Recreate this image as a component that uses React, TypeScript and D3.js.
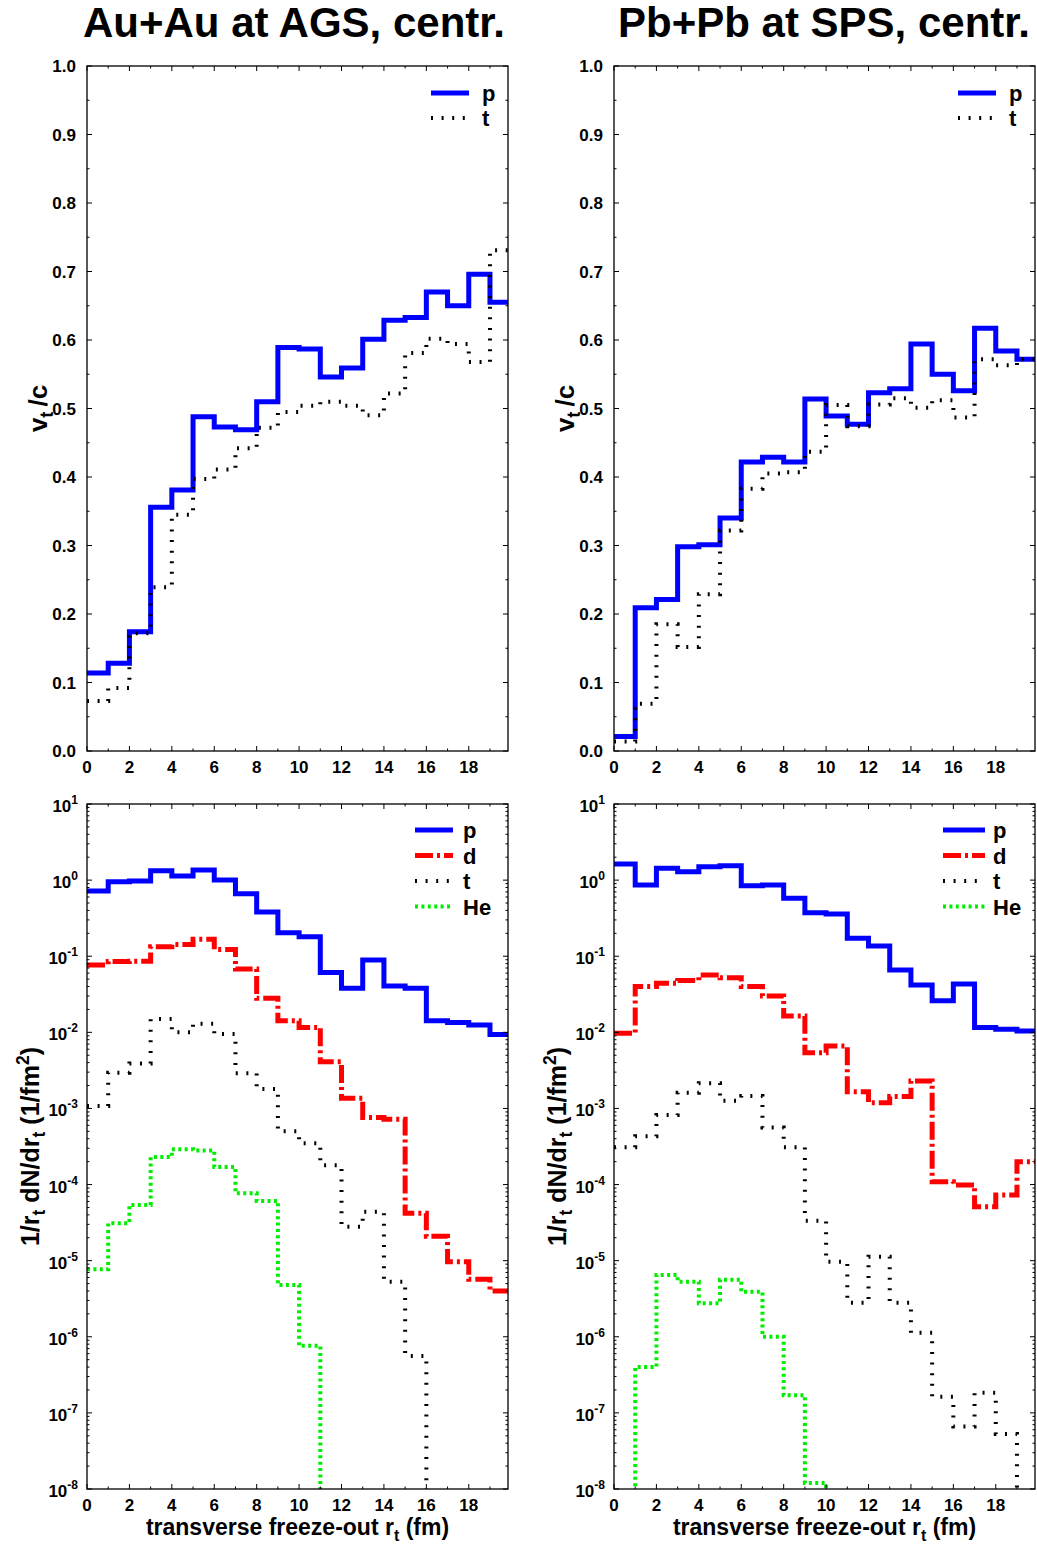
import React from "react";
import * as d3 from "d3";

// bin edges of the transverse radius histogram (fm)
const rEdges = [0, 1, 2, 3, 4, 5, 6, 7, 8, 9, 10, 11, 12, 13, 14, 15, 16, 17, 18, 19, 20];

// v_t/c per bin
const agsVtP = [0.114, 0.128, 0.174, 0.356, 0.381, 0.488, 0.473, 0.469, 0.51, 0.589, 0.587, 0.546, 0.559, 0.601, 0.629, 0.633, 0.67, 0.65, 0.696, 0.655];
const agsVtT = [0.073, 0.092, 0.172, 0.239, 0.345, 0.397, 0.411, 0.442, 0.472, 0.495, 0.504, 0.51, 0.504, 0.49, 0.522, 0.581, 0.602, 0.594, 0.568, 0.731];
const spsVtP = [0.021, 0.209, 0.221, 0.298, 0.301, 0.34, 0.422, 0.429, 0.422, 0.514, 0.489, 0.477, 0.523, 0.529, 0.594, 0.55, 0.526, 0.617, 0.584, 0.572];
const spsVtT = [0.014, 0.069, 0.185, 0.152, 0.229, 0.322, 0.383, 0.405, 0.407, 0.437, 0.505, 0.474, 0.506, 0.515, 0.501, 0.512, 0.487, 0.572, 0.563, 0.572];

// 1/r_t dN/dr_t (1/fm^2) per bin, null = empty bin
const agsDnP = [0.72, 0.95, 0.97, 1.33, 1.13, 1.36, 1.0, 0.66, 0.38, 0.204, 0.18, 0.061, 0.038, 0.089, 0.0406, 0.038, 0.0142, 0.0135, 0.0125, 0.0094];
const agsDnD = [0.0767, 0.085, 0.086, 0.133, 0.143, 0.167, 0.123, 0.068, 0.028, 0.0142, 0.0116, 0.0041, 0.00136, 0.00076, 0.00072, 4.2e-5, 2.1e-5, 9.7e-6, 5.7e-6, 4.0e-6];
const agsDnT = [0.00108, 0.00295, 0.0039, 0.015, 0.01, 0.013, 0.0095, 0.0029, 0.0018, 0.0005, 0.00035, 0.00018, 2.8e-5, 4.4e-5, 5.3e-6, 5.6e-7, null, null, null, null];
const agsDnHe = [7.7e-6, 3.1e-5, 5.4e-5, 0.00023, 0.00029, 0.00028, 0.00017, 7.7e-5, 6.1e-5, 4.8e-6, 7.6e-7, null, null, null, null, null, null, null, null, null];
const spsDnP = [1.63, 0.864, 1.43, 1.29, 1.5, 1.55, 0.845, 0.86, 0.577, 0.373, 0.36, 0.172, 0.136, 0.066, 0.042, 0.026, 0.043, 0.0116, 0.011, 0.0104];
const spsDnD = [0.0097, 0.04, 0.044, 0.048, 0.0566, 0.052, 0.04, 0.03, 0.0164, 0.0054, 0.0066, 0.00166, 0.00119, 0.00143, 0.0023, 0.000109, 9.9e-5, 5.1e-5, 7.3e-5, 0.0002];
const spsDnT = [0.00031, 0.00043, 0.00082, 0.00161, 0.00214, 0.00126, 0.00146, 0.00056, 0.00031, 3.35e-5, 9.7e-6, 2.8e-6, 1.13e-5, 2.8e-6, 1.13e-6, 1.63e-7, 6.6e-8, 1.84e-7, 5.3e-8, null];
const spsDnHe = [null, 4.0e-7, 6.5e-6, 5.3e-6, 2.75e-6, 5.6e-6, 3.9e-6, 1.0e-6, 1.7e-7, 1.2e-8, null, null, null, null, null, null, null, null, null, null];

const xTickLabels = [0, 2, 4, 6, 8, 10, 12, 14, 16, 18];
const vtTickLabels = [0, 0.1, 0.2, 0.3, 0.4, 0.5, 0.6, 0.7, 0.8, 0.9, 1.0];
const logExponents = [1, 0, -1, -2, -3, -4, -5, -6, -7, -8];

const FONT = "'Liberation Sans', Arial, Helvetica, sans-serif";

const STYLE = {
  p: { color: "#0000ff", width: 5, dash: undefined },
  d: { color: "#ff0000", width: 5, dash: "18,4,3,4" },
  t: { color: "#000000", width: 4, dash: "2,8.6" },
  He: { color: "#00ee00", width: 4, dash: "3,3.4" },
};

type Row = { r: number; v: number | null };

function Panel(props: any) {
  const { id, left, right, top, bottom, log, series, legend, yLabel, xLabel, title } = props;
  const x = d3.scaleLinear().domain([0, 19.85]).range([left, right]);
  const y: any = log
    ? d3.scaleLog().domain([1e-8, 10]).range([bottom, top])
    : d3.scaleLinear().domain([0, 1]).range([bottom, top]);

  const line = d3
    .line<Row>()
    .x((d) => x(d.r))
    .y((d) => (d.v == null ? bottom + 40 : y(d.v)))
    .curve(d3.curveStepAfter);

  const xMinor = x.ticks(20).filter((t) => !xTickLabels.includes(t));
  let yMajor: number[];
  let yMinor: number[];
  if (log) {
    yMajor = logExponents.map((e) => Math.pow(10, e));
    yMinor = y.ticks().filter((t: number) => {
      const m = t / Math.pow(10, Math.floor(Math.log10(t) + 1e-9));
      return Math.abs(m - 1) > 1e-6;
    });
  } else {
    yMajor = vtTickLabels;
    yMinor = y.ticks(20).filter((t: number) => Math.abs(t * 10 - Math.round(t * 10)) > 1e-6);
  }

  const MAJ = 5;
  const MIN = 2.5;
  const cx = (left + right) / 2;
  const cy = (top + bottom) / 2;
  const sub = yLabel.size * 0.7;

  return (
    <g>
      <defs>
        <clipPath id={id}>
          <rect x={left} y={top} width={right - left} height={bottom - top} />
        </clipPath>
      </defs>
      {title && (
        <text x={title.x} y={37} textAnchor="middle" fontFamily={FONT} fontWeight="bold" fontSize={42}>
          {title.text}
        </text>
      )}
      <g clipPath={`url(#${id})`}>
        {series.map((s: any, i: number) => {
          const st = (STYLE as any)[s.key];
          const rows: Row[] = rEdges.map((r, k) => ({ r, v: s.values[Math.min(k, s.values.length - 1)] }));
          return (
            <path
              key={i}
              d={line(rows) || ""}
              fill="none"
              stroke={st.color}
              strokeWidth={st.width}
              strokeDasharray={st.dash}
              strokeLinejoin="miter"
            />
          );
        })}
      </g>
      {/* frame */}
      <rect x={left} y={top} width={right - left} height={bottom - top} fill="none" stroke="#000" strokeWidth={1.3} />
      {/* x ticks */}
      {xTickLabels.map((t) => (
        <g key={"xm" + t}>
          <line x1={x(t)} x2={x(t)} y1={bottom} y2={bottom - MAJ} stroke="#000" strokeWidth={1} />
          <line x1={x(t)} x2={x(t)} y1={top} y2={top + MAJ} stroke="#000" strokeWidth={1} />
          <text x={x(t)} y={bottom + 22} textAnchor="middle" fontFamily={FONT} fontWeight="bold" fontSize={17}>
            {t}
          </text>
        </g>
      ))}
      {xMinor.map((t) => (
        <g key={"xn" + t}>
          <line x1={x(t)} x2={x(t)} y1={bottom} y2={bottom - MIN} stroke="#000" strokeWidth={1} />
          <line x1={x(t)} x2={x(t)} y1={top} y2={top + MIN} stroke="#000" strokeWidth={1} />
        </g>
      ))}
      {/* y ticks */}
      {yMajor.map((t, i) => (
        <g key={"ym" + i}>
          <line x1={left} x2={left + MAJ} y1={y(t)} y2={y(t)} stroke="#000" strokeWidth={1} />
          <line x1={right} x2={right - MAJ} y1={y(t)} y2={y(t)} stroke="#000" strokeWidth={1} />
          {log ? (
            <text x={left - 9} y={y(t) + 8} textAnchor="end" fontFamily={FONT} fontWeight="bold" fontSize={17}>
              <tspan>10</tspan>
              <tspan dy={-8} fontSize={12}>
                {logExponents[i]}
              </tspan>
            </text>
          ) : (
            <text x={left - 11} y={y(t) + 6} textAnchor="end" fontFamily={FONT} fontWeight="bold" fontSize={17}>
              {d3.format(".1f")(t)}
            </text>
          )}
        </g>
      ))}
      {yMinor.map((t, i) => (
        <g key={"yn" + i}>
          <line x1={left} x2={left + MIN} y1={y(t)} y2={y(t)} stroke="#000" strokeWidth={1} />
          <line x1={right} x2={right - MIN} y1={y(t)} y2={y(t)} stroke="#000" strokeWidth={1} />
        </g>
      ))}
      {/* legend */}
      {series.map((s: any, i: number) => {
        const st = (STYLE as any)[s.key];
        const ly = top + legend.top + i * legend.gap;
        return (
          <g key={"lg" + i}>
            <line
              x1={right + legend.x1}
              x2={right + legend.x2}
              y1={ly}
              y2={ly}
              stroke={st.color}
              strokeWidth={st.width}
              strokeDasharray={st.dash}
            />
            <text x={right + legend.tx} y={ly + 8} fontFamily={FONT} fontWeight="bold" fontSize={22}>
              {s.key}
            </text>
          </g>
        );
      })}
      {/* y label */}
      <text
        transform={`translate(${left - yLabel.dx},${cy}) rotate(-90)`}
        textAnchor="middle"
        fontFamily={FONT}
        fontWeight="bold"
        fontSize={yLabel.size}
      >
        {yLabel.log ? (
          <>
            <tspan>1/r</tspan>
            <tspan dy={6} fontSize={sub}>t</tspan>
            <tspan dy={-6}> dN/dr</tspan>
            <tspan dy={6} fontSize={sub}>t</tspan>
            <tspan dy={-6}> (1/fm</tspan>
            <tspan dy={-10} fontSize={sub}>2</tspan>
            <tspan dy={10}>)</tspan>
          </>
        ) : (
          <>
            <tspan>v</tspan>
            <tspan dy={6} fontSize={sub}>t</tspan>
            <tspan dy={-6} dx={5}>/c</tspan>
          </>
        )}
      </text>
      {xLabel && (
        <text x={cx} y={bottom + 46} textAnchor="middle" fontFamily={FONT} fontWeight="bold" fontSize={23}>
          <tspan>transverse freeze-out r</tspan>
          <tspan dy={6} fontSize={16}>t</tspan>
          <tspan dy={-6}> (fm)</tspan>
        </text>
      )}
    </g>
  );
}

export default function App() {
  const L = { left: 87, right: 508 };
  const R = { left: 614, right: 1035 };
  const T = { top: 66, bottom: 751 };
  const B = { top: 804, bottom: 1489 };
  const legTop = { top: 27, gap: 25, x1: -77, x2: -39, tx: -26 };
  const legBotL = { top: 26, gap: 25.5, x1: -93, x2: -55, tx: -45 };
  const legBotR = { top: 26, gap: 25.5, x1: -92, x2: -50, tx: -42 };
  return (
    <div style={{ position: "absolute", left: 0, top: 0 }}>
      <svg width={1037} height={1544} style={{ display: "block", background: "#fff" }}>
        <Panel
          id="c1"
          {...L}
          {...T}
          log={false}
          title={{ x: 294, text: "Au+Au at AGS, centr." }}
          series={[
            { key: "p", values: agsVtP },
            { key: "t", values: agsVtT },
          ]}
          legend={legTop}
          yLabel={{ dx: 40, size: 26, log: false }}
        />
        <Panel
          id="c2"
          {...R}
          {...T}
          log={false}
          title={{ x: 824, text: "Pb+Pb at SPS, centr." }}
          series={[
            { key: "p", values: spsVtP },
            { key: "t", values: spsVtT },
          ]}
          legend={legTop}
          yLabel={{ dx: 40, size: 26, log: false }}
        />
        <Panel
          id="c3"
          {...L}
          {...B}
          log={true}
          series={[
            { key: "p", values: agsDnP },
            { key: "d", values: agsDnD },
            { key: "t", values: agsDnT },
            { key: "He", values: agsDnHe },
          ]}
          legend={legBotL}
          yLabel={{ dx: 48, size: 25, log: true }}
          xLabel
        />
        <Panel
          id="c4"
          {...R}
          {...B}
          log={true}
          series={[
            { key: "p", values: spsDnP },
            { key: "d", values: spsDnD },
            { key: "t", values: spsDnT },
            { key: "He", values: spsDnHe },
          ]}
          legend={legBotR}
          yLabel={{ dx: 48, size: 25, log: true }}
          xLabel
        />
      </svg>
    </div>
  );
}
